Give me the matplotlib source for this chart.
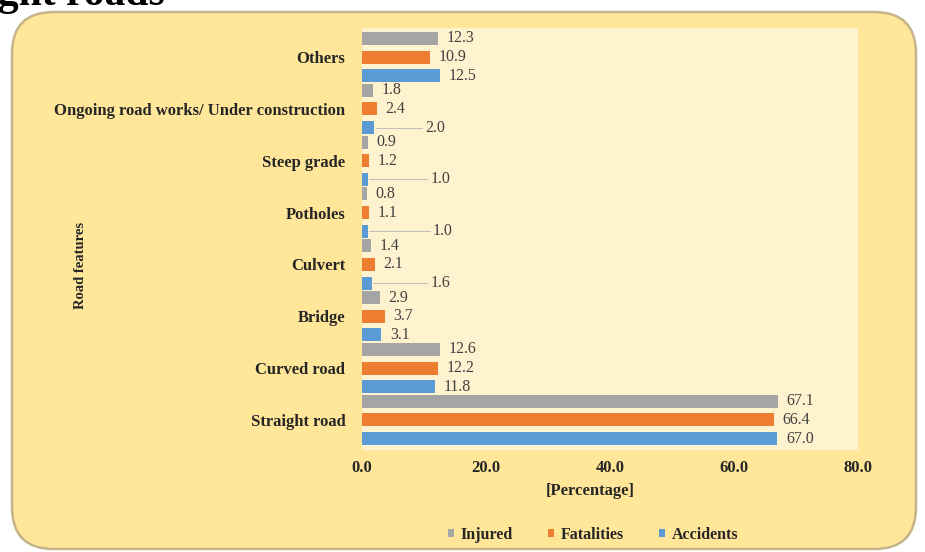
import matplotlib.pyplot as plt
import numpy as np
from matplotlib.patches import FancyBboxPatch

# data, bottom to top
features = ['Straight road', 'Curved road', 'Bridge', 'Culvert', 'Potholes',
            'Steep grade', 'Ongoing road works/ Under construction', 'Others']
accidents = [67.0, 11.8, 3.1, 1.6, 1.0, 1.0, 2.0, 12.5]
fatalities = [66.4, 12.2, 3.7, 2.1, 1.1, 1.2, 2.4, 10.9]
injured = [67.1, 12.6, 2.9, 1.4, 0.8, 0.9, 1.8, 12.3]
xticks = [0, 20, 40, 60, 80]

c_acc = '#5B9BD5'
c_fat = '#ED7D31'
c_inj = '#A5A5A5'

plt.rcParams['font.family'] = ['Liberation Serif', 'DejaVu Serif']
plt.rcParams['font.weight'] = 'bold'

fig = plt.figure(figsize=(9.25, 5.52), dpi=100)
fig.patch.set_facecolor('white')

# outer rounded panel
panel = FancyBboxPatch((12 / 925, 3 / 552), 904 / 925, 537 / 552,
                       boxstyle='round,pad=0,rounding_size=0.045',
                       transform=fig.transFigure, facecolor='#FFE699',
                       edgecolor='#C4B48A', linewidth=1.8, zorder=-10,
                       mutation_aspect=925 / 552)
fig.patches.append(panel)

# cut-off heading above the chart
fig.text(165 / 925, 1 - 5 / 552, 'Straight roads', ha='right', va='baseline',
         fontsize=30, fontweight='bold', color='black')

ax = fig.add_axes([362 / 925, 1 - 450 / 552, 496 / 925, 422 / 552])
ax.set_zorder(2)
ax.set_facecolor('#FFF3CF')
for s in ax.spines.values():
    s.set_visible(False)

y = np.arange(len(features))
off = 0.36
h = 0.25
ax.barh(y - off, accidents, height=h, color=c_acc, label='Accidents')
ax.barh(y, fatalities, height=h, color=c_fat, label='Fatalities')
ax.barh(y + off, injured, height=h, color=c_inj, label='Injured')

# where the pushed-out labels of the small blue bars sit
leader_x = {3: 11.0, 4: 11.4, 5: 11.0, 6: 10.2}

lab_kw = dict(va='center', ha='left', fontsize=11.5, fontweight='normal', color='#404040')
for i in range(len(features)):
    ax.text(fatalities[i] + 1.4, y[i], '%.1f' % fatalities[i], **lab_kw)
    ax.text(injured[i] + 1.4, y[i] + off, '%.1f' % injured[i], **lab_kw)
    if i in leader_x:
        lx = leader_x[i]
        ax.plot([accidents[i] + 0.2, lx - 0.5], [y[i] - off, y[i] - off],
                color='#BFBFBF', lw=0.7)
        ax.text(lx, y[i] - off, '%.1f' % accidents[i], **lab_kw)
    else:
        ax.text(accidents[i] + 1.4, y[i] - off, '%.1f' % accidents[i], **lab_kw)

ax.set_xlim(0, 80)
ax.set_ylim(-0.58, 7.56)
ax.set_xticks(xticks)
ax.set_xticklabels(['%.1f' % v for v in xticks])
ax.set_yticks(y)
ax.set_yticklabels(features)
ax.tick_params(axis='both', length=0, labelsize=12, colors='#262626')
ax.tick_params(axis='y', pad=12)
ax.tick_params(axis='x', pad=7)
for t in ax.get_xticklabels() + ax.get_yticklabels():
    t.set_fontweight('bold')

fig.text(590 / 925, 1 - 491 / 552, '[Percentage]', ha='center', va='center',
         fontsize=12, fontweight='bold', color='#262626')
fig.text(80 / 925, 1 - 265 / 552, 'Road features', rotation=90, ha='center', va='center',
         fontsize=10.5, fontweight='bold', color='#262626')

handles, labels = ax.get_legend_handles_labels()
leg = fig.legend(handles[::-1], labels[::-1], loc='center', ncol=3,
                 bbox_to_anchor=(593 / 925, 1 - 535 / 552), frameon=False,
                 handlelength=0.4, handleheight=0.4, columnspacing=2.2,
                 handletextpad=0.4, prop={'size': 11.5, 'weight': 'bold'})
for t in leg.get_texts():
    t.set_color('#262626')

fig.savefig('out.png', dpi=100)
